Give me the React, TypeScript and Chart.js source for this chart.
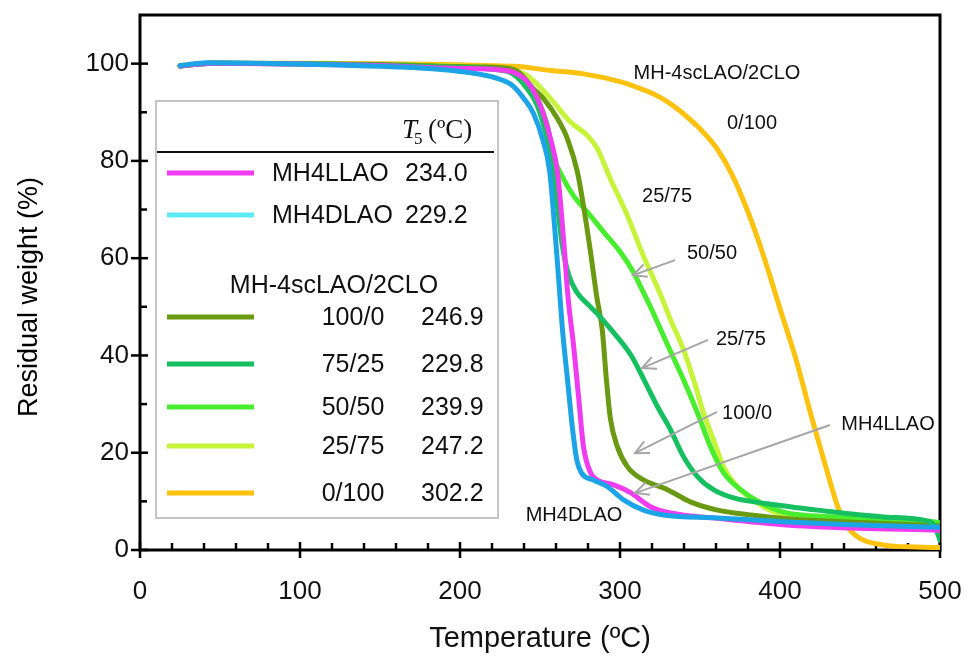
import React, { useEffect, useRef } from 'react';
import { Chart, registerables } from 'chart.js';

Chart.register(...registerables);

const SANS = "'Liberation Sans', Arial, Helvetica, sans-serif";
const SERIF = "'Liberation Serif', 'Times New Roman', serif";

// Axis ticks
const xMajorTicks = [0, 100, 200, 300, 400, 500];
const xMinorTicks = [20, 40, 60, 80, 120, 140, 160, 180, 220, 240, 260, 280, 320, 340, 360, 380, 420, 440, 460, 480];
const yMajorTicks = [0, 20, 40, 60, 80, 100];
const yMinorTicks = [10, 30, 50, 70, 90];

// Series: [temperature (ºC), residual weight (%)]
const mh4dlao = [
  [25, 99.6], [42, 100.2], [75, 100.1], [125, 99.7], [163, 99.3], [188, 98.8], [207, 98.1], [222, 97.1],
  [232, 95.7], [240, 92.8], [246, 89.7], [251.6, 84.5], [256, 78], [259, 67], [261.6, 56], [264, 45.5],
  [267.2, 35], [270.3, 25], [273, 18.5], [276, 15.8], [283.4, 14.4], [292.2, 13], [302.2, 10.3],
  [314.7, 8.2], [327.2, 7.2], [361, 6.6], [402, 5.8], [444, 5.2], [500, 4.7],
];
const mh4llao = [
  [25, 99.5], [45, 100.1], [100, 99.9], [150, 99.6], [200, 99.0], [225, 98.7], [242, 96.3], [250.3, 91.3],
  [256.6, 84.5], [260.9, 77.7], [264.7, 64], [267.5, 52], [271, 42], [274.1, 31.5], [277.2, 21.2],
  [281.6, 15.9], [285.9, 14.4], [296, 13.4], [306.6, 11.8], [319, 8.9], [331.6, 7.6], [361, 6.5],
  [402, 5.2], [444, 4.5], [496, 4.1], [500, 4.0],
];
const ratio100_0 = [
  [25, 99.5], [45, 100.1], [100, 100], [150, 99.8], [200, 99.4], [225, 99.2], [236, 98.4], [246, 94.8],
  [252.2, 92.8], [260.9, 88.7], [267.2, 84.5], [273.4, 77.7], [277.2, 70.7], [281.6, 61.2], [285.5, 52],
  [289, 45], [291.5, 35], [294, 27], [298.4, 21.2], [304.7, 17.1], [314.7, 14.4], [329.7, 12.4],
  [344, 9.9], [361, 8.2], [381.6, 7.2], [412.8, 6.2], [454.7, 5.6], [500, 5.0],
];
const ratio75_25 = [
  [25, 99.5], [45, 100.1], [100, 100], [150, 99.7], [200, 99.2], [229.7, 98.4], [242.2, 94.8], [248.4, 91.3],
  [253.4, 86], [256.6, 81], [260.9, 70.7], [264, 62.5], [268, 56.5], [273, 53], [280, 50.5], [286, 48.5],
  [296, 44.7], [306.6, 40.2], [314.7, 35.2], [323.4, 29.5], [331.6, 24.7], [339.7, 19.2], [348.4, 15.1],
  [358.4, 12.4], [371, 10.7], [392.2, 9.5], [423.4, 8.2], [464.7, 6.8], [492, 6.0], [496.5, 5.0], [500, 2.0],
];
const ratio50_50 = [
  [25, 99.5], [45, 100.1], [100, 100], [150, 99.7], [200, 99.2], [229.7, 98.6], [242.2, 96.3], [248.4, 92.8],
  [254.7, 87.2], [258.4, 81], [264.7, 76.3], [271, 72.8], [281.6, 68.7], [289.7, 65.4], [300.3, 61.2],
  [308.4, 57.1], [314, 53.4], [320, 49.3], [329.7, 42.2], [339.7, 35], [348.4, 28.2], [356.6, 21.2],
  [364.7, 15.9], [375.3, 12.4], [387.8, 9.7], [402.2, 7.8], [433.4, 6.8], [464.7, 6.4], [496, 5.8], [500, 5.6],
];
const ratio25_75 = [
  [25, 99.5], [45, 100.1], [100, 100], [150, 99.8], [200, 99.5], [225, 99], [242.2, 97.5], [256.6, 92.8],
  [269, 88], [279.7, 85.2], [285.9, 82.5], [294, 76.3], [304.7, 68.7], [314.7, 60.4], [320, 56.5], [326, 52],
  [332, 47], [339.7, 41.2], [346, 35], [352.2, 28.2], [358.4, 22.7], [364.7, 17.1], [373.4, 13],
  [385.9, 9.7], [398.4, 7.6], [423.4, 6.8], [464.7, 6.0], [496, 5.6], [500, 5.5],
];
const ratio0_100 = [
  [25, 99.6], [45, 100.1], [100, 100.1], [150, 100], [194, 99.8], [214.7, 99.6], [235.9, 99.4], [256.6, 98.6],
  [277.2, 97.9], [300, 96.3], [310, 95.2], [320, 93.9], [330, 92.1], [340, 89.6], [350, 86.6], [360, 82.8],
  [370, 77.2], [380, 69.5], [390, 60.2], [400, 49.6], [410, 39.2], [420, 27], [430, 15.5], [436, 9],
  [442, 4.8], [450, 2.4], [465, 1.0], [485, 0.6], [500, 0.5],
];

// Legend content
const legendTopNames = ['MH4LLAO', 'MH4DLAO'];
const legendTopT5 = ['234.0', '229.2'];
const legendGroupTitle = 'MH-4scLAO/2CLO';
const ratioNames = ['100/0', '75/25', '50/50', '25/75', '0/100'];
const ratioT5 = ['246.9', '229.8', '239.9', '247.2', '302.2'];

// In-plot annotations (data coordinates)
const annotationLabels = ['MH-4scLAO/2CLO', '0/100', '25/75', '50/50', '25/75', '100/0', 'MH4LLAO', 'MH4DLAO'];
const annotationAt = [[360.6, 97.9], [382.5, 87.6], [329.4, 72.6], [357.5, 60.9], [375.6, 43.2], [379.4, 28.0], [467.5, 25.9], [271.25, 7.0]];
const arrowFrom = [[334.4, 59.6], [355, 43.2], [360.6, 28.4], [431.25, 25.7]];
const arrowTo = [[308.1, 56.5], [313.75, 37.4], [309.4, 19.9], [309.4, 11.7]];

const COLORS = {
  mh4dlao: '#1ca4e6',
  mh4dlaoKey: '#5cecf6',
  mh4llao: '#f03cf0',
  r100: '#6a9a12',
  r75: '#16c060',
  r50: '#48ee2e',
  r25: '#c6f43a',
  r0: '#ffc20e',
};

const toPts = (arr: number[][]) => arr.map(([x, y]) => ({ x, y }));

const zeroPad = (s: any) => {
  s.paddingLeft = 0;
  s.paddingRight = 0;
  s.paddingTop = 0;
  s.paddingBottom = 0;
};

const decorPlugin = {
  id: 'decor',
  beforeDatasetsDraw(chart: any) {
    const { ctx, chartArea, scales } = chart;
    const { left, right, top, bottom } = chartArea;
    const xs = scales.x;
    const ys = scales.y;
    ctx.save();
    ctx.strokeStyle = '#000';
    ctx.lineWidth = 3;
    ctx.strokeRect(left, top, right - left, bottom - top);
    ctx.lineWidth = 2.5;
    const seg = (x1: number, y1: number, x2: number, y2: number) => {
      ctx.beginPath();
      ctx.moveTo(x1, y1);
      ctx.lineTo(x2, y2);
      ctx.stroke();
    };
    for (const v of xMajorTicks) {
      const px = xs.getPixelForValue(v);
      seg(px, bottom - 8, px, bottom + 8);
    }
    for (const v of xMinorTicks) {
      const px = xs.getPixelForValue(v);
      seg(px, bottom - 7, px, bottom);
    }
    for (const v of yMajorTicks) {
      const py = ys.getPixelForValue(v);
      seg(left - 9, py, left + 8, py);
    }
    for (const v of yMinorTicks) {
      const py = ys.getPixelForValue(v);
      seg(left, py, left + 7, py);
    }
    ctx.restore();
  },
  afterDatasetsDraw(chart: any) {
    const { ctx, scales } = chart;
    const xs = scales.x;
    const ys = scales.y;
    ctx.save();

    // Y axis title
    ctx.save();
    ctx.translate(30, 297);
    ctx.rotate(-Math.PI / 2);
    ctx.fillStyle = '#000';
    ctx.font = `27px ${SANS}`;
    ctx.textAlign = 'center';
    ctx.textBaseline = 'middle';
    ctx.fillText('Residual weight (%)', 0, 0);
    ctx.restore();

    // Annotations
    ctx.fillStyle = '#111';
    ctx.font = `20px ${SANS}`;
    ctx.textAlign = 'center';
    ctx.textBaseline = 'middle';
    annotationLabels.forEach((t, i) => {
      const [vx, vy] = annotationAt[i];
      ctx.fillText(t, xs.getPixelForValue(vx), ys.getPixelForValue(vy));
    });

    // Arrows
    ctx.strokeStyle = '#a6a6a6';
    ctx.lineWidth = 2;
    arrowFrom.forEach((f, i) => {
      const t = arrowTo[i];
      const x1 = xs.getPixelForValue(f[0]);
      const y1 = ys.getPixelForValue(f[1]);
      const x2 = xs.getPixelForValue(t[0]);
      const y2 = ys.getPixelForValue(t[1]);
      ctx.beginPath();
      ctx.moveTo(x1, y1);
      ctx.lineTo(x2, y2);
      ctx.stroke();
      const ang = Math.atan2(y1 - y2, x1 - x2);
      const hl = 15;
      const spread = 0.45;
      ctx.beginPath();
      ctx.moveTo(x2 + hl * Math.cos(ang + spread), y2 + hl * Math.sin(ang + spread));
      ctx.lineTo(x2, y2);
      ctx.lineTo(x2 + hl * Math.cos(ang - spread), y2 + hl * Math.sin(ang - spread));
      ctx.stroke();
    });

    // Legend box
    const bx = 156, by = 101, bw = 342, bh = 417;
    ctx.fillStyle = '#fff';
    ctx.fillRect(bx, by, bw, bh);
    ctx.strokeStyle = '#c4c4c4';
    ctx.lineWidth = 2;
    ctx.strokeRect(bx, by, bw, bh);

    // Header T5 (ºC)
    ctx.fillStyle = '#111';
    ctx.textAlign = 'left';
    ctx.textBaseline = 'alphabetic';
    ctx.font = `italic 27px ${SERIF}`;
    ctx.fillText('T', 402, 138);
    ctx.font = `17px ${SERIF}`;
    ctx.fillText('5', 414, 144);
    ctx.font = `27px ${SERIF}`;
    ctx.fillText('(ºC)', 428, 138);
    ctx.strokeStyle = '#111';
    ctx.lineWidth = 2;
    ctx.beginPath();
    ctx.moveTo(bx + 1, 152);
    ctx.lineTo(494, 152);
    ctx.stroke();

    const keyLine = (color: string, y: number) => {
      ctx.strokeStyle = color;
      ctx.lineWidth = 5;
      ctx.beginPath();
      ctx.moveTo(167, y);
      ctx.lineTo(254, y);
      ctx.stroke();
    };

    ctx.textBaseline = 'middle';
    ctx.font = `25px ${SANS}`;
    const topColors = [COLORS.mh4llao, COLORS.mh4dlaoKey];
    const topY = [173, 215];
    legendTopNames.forEach((n, i) => {
      keyLine(topColors[i], topY[i]);
      ctx.fillStyle = '#111';
      ctx.textAlign = 'left';
      ctx.fillText(n, 272, topY[i] + 1);
      ctx.fillText(legendTopT5[i], 405, topY[i] + 1);
    });

    ctx.textAlign = 'center';
    ctx.fillText(legendGroupTitle, 334, 286);

    const ratioColors = [COLORS.r100, COLORS.r75, COLORS.r50, COLORS.r25, COLORS.r0];
    const ratioY = [317, 364, 407, 446, 493];
    ratioNames.forEach((n, i) => {
      keyLine(ratioColors[i], ratioY[i]);
      ctx.fillStyle = '#111';
      ctx.textAlign = 'center';
      ctx.fillText(n, 353, ratioY[i] + 1);
      ctx.textAlign = 'left';
      ctx.fillText(ratioT5[i], 421, ratioY[i] + 1);
    });

    ctx.restore();
  },
};

export default function App() {
  const ref = useRef<HTMLCanvasElement | null>(null);

  useEffect(() => {
    if (!ref.current) return;
    const mk = (label: string, data: number[][], color: string, order: number) => ({
      label,
      data: toPts(data),
      borderColor: color,
      backgroundColor: color,
      borderWidth: 5,
      showLine: true,
      pointRadius: 0,
      pointHoverRadius: 0,
      cubicInterpolationMode: 'monotone' as const,
      borderCapStyle: 'round' as const,
      borderJoinStyle: 'round' as const,
      fill: false,
      order,
    });

    const chart = new Chart(ref.current, {
      type: 'scatter',
      data: {
        datasets: [
          mk('MH4DLAO', mh4dlao, COLORS.mh4dlao, 0),
          mk('MH4LLAO', mh4llao, COLORS.mh4llao, 1),
          mk('75/25', ratio75_25, COLORS.r75, 2),
          mk('100/0', ratio100_0, COLORS.r100, 3),
          mk('50/50', ratio50_50, COLORS.r50, 4),
          mk('25/75', ratio25_75, COLORS.r25, 5),
          mk('0/100', ratio0_100, COLORS.r0, 6),
        ],
      },
      options: {
        animation: false,
        responsive: false,
        devicePixelRatio: 1,
        layout: { autoPadding: false, padding: { left: 0, top: 15, right: 29, bottom: 0 } },
        plugins: {
          legend: { display: false },
          tooltip: { enabled: false },
          title: { display: false },
        },
        scales: {
          x: {
            type: 'linear',
            min: 0,
            max: 500,
            afterFit: (s: any) => { s.height = 108; zeroPad(s); },
            ticks: {
              stepSize: 100,
              includeBounds: false,
              color: '#111',
              padding: 26,
              font: { family: SANS, size: 26 },
            },
            grid: { display: false, drawTicks: false },
            border: { display: false },
            title: {
              display: true,
              text: 'Temperature (ºC)',
              color: '#111',
              font: { family: SANS, size: 29, lineHeight: 1 },
              padding: { top: 0, bottom: 5 },
            },
          },
          y: {
            type: 'linear',
            min: 0,
            max: 110,
            afterFit: (s: any) => { s.width = 140; zeroPad(s); },
            ticks: {
              stepSize: 20,
              includeBounds: false,
              color: '#111',
              padding: 11,
              font: { family: SANS, size: 26 },
            },
            grid: { display: false, drawTicks: false },
            border: { display: false },
          },
        },
      },
      plugins: [decorPlugin],
    });
    return () => chart.destroy();
  }, []);

  return (
    <div style={{ position: 'fixed', left: 0, top: 0, width: 969, height: 658, background: '#fff' }}>
      <canvas ref={ref} width={969} height={658} style={{ width: 969, height: 658, display: 'block' }} />
    </div>
  );
}
